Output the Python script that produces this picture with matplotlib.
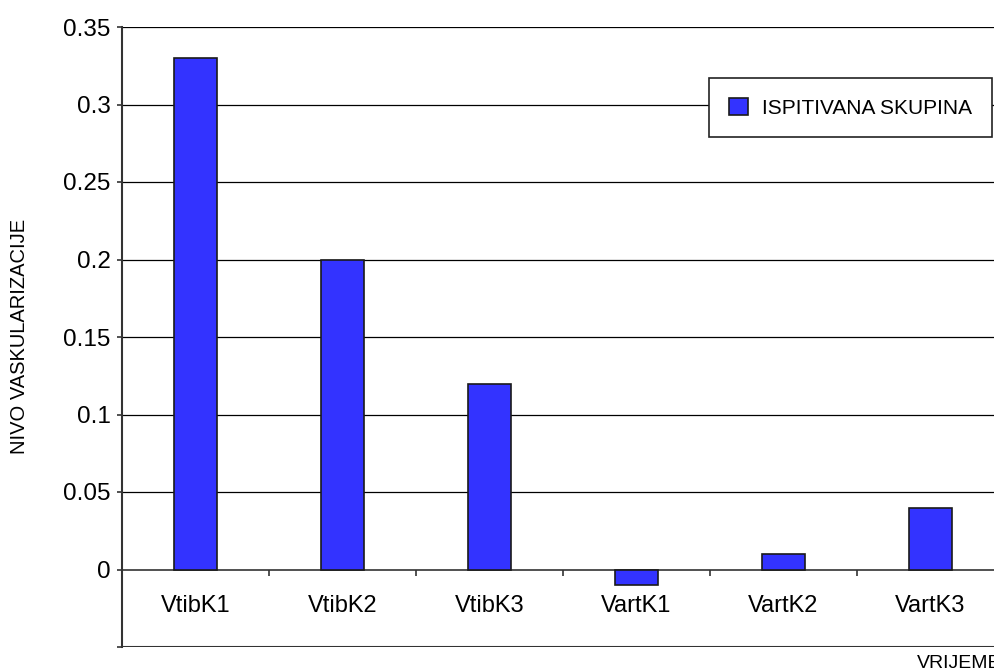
import matplotlib
matplotlib.use("Agg")
import matplotlib.pyplot as plt
import numpy as np

# data
categories = ["VtibK1", "VtibK2", "VtibK3", "VartK1", "VartK2", "VartK3"]
values = [0.33, 0.20, 0.12, -0.01, 0.01, 0.04]
series_name = "ISPITIVANA SKUPINA"
y_ticks = [-0.05, 0.0, 0.05, 0.1, 0.15, 0.2, 0.25, 0.3, 0.35]
y_labels = ["", "0", "0.05", "0.1", "0.15", "0.2", "0.25", "0.3", "0.35"]

plt.rcParams["font.family"] = ["Liberation Sans", "DejaVu Sans"]

W, H = 995, 671
fig = plt.figure(figsize=(W / 100, H / 100), dpi=100)
# axes runs past the right edge, as in the cropped original
left, right, top, bottom = 122, 1004, 27, 647
ax = fig.add_axes([left / W, 1 - bottom / H, (right - left) / W, (bottom - top) / H])

x = np.arange(len(categories))
ax.bar(x, values, width=0.29, color="#3333ff", edgecolor="#1a1a1a",
       linewidth=1.2, zorder=3, label=series_name)

ax.set_xlim(-0.5, len(categories) - 0.5)
ax.set_ylim(-0.05, 0.35)

# horizontal grid
for yv in y_ticks[2:]:
    ax.axhline(yv, color="black", linewidth=0.9, zorder=1)
ax.axhline(-0.05, color="#333333", linewidth=1.5, zorder=2)

# spines
for s in ("top", "right"):
    ax.spines[s].set_visible(False)
ax.spines["bottom"].set_position(("data", 0))
ax.spines["bottom"].set_color("#333333")
ax.spines["bottom"].set_linewidth(1.2)
ax.spines["left"].set_color("#333333")
ax.spines["left"].set_linewidth(1.5)

ax.set_yticks(y_ticks)
ax.set_yticklabels(y_labels, fontsize=17.5)
ax.tick_params(axis="y", direction="out", length=3.6, width=1.2, pad=4.5,
               color="#333333")

# x: boundary ticks below the zero line, labels at category centres
ax.set_xticks(x[:-1] + 0.5)
ax.set_xticklabels([])
ax.tick_params(axis="x", which="major", direction="out", length=4.3, width=1.2,
               color="#333333")
ax.set_xticks(x, minor=True)
ax.set_xticklabels(categories, minor=True, fontsize=17)
ax.tick_params(axis="x", which="minor", length=0, pad=18)

leg = ax.legend(loc="upper left", bbox_to_anchor=((709 - left) / (right - left),
                1 - (78 - top) / (bottom - top)), fontsize=15, frameon=True,
                fancybox=False, edgecolor="#222222", framealpha=1,
                handlelength=0.9, handleheight=0.9, borderpad=0.95,
                handletextpad=0.7, borderaxespad=0)
leg.get_frame().set_linewidth(1.2)

fig.text(20 / W, 1 - 336 / H, "NIVO VASKULARIZACIJE", rotation=90,
         ha="center", va="center", fontsize=14.5)
fig.text(917 / W, 1 - 663 / H, "VRIJEME", ha="left", va="center", fontsize=14)

fig.savefig("out.png", dpi=100, facecolor="white")
